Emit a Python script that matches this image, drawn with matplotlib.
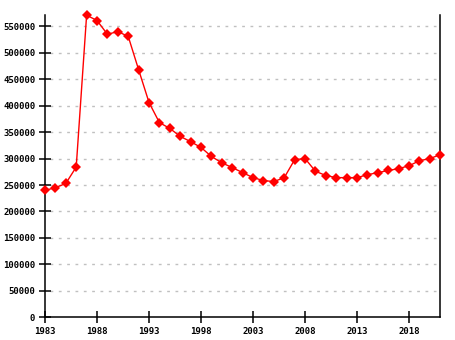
import matplotlib
matplotlib.use("Agg")
import matplotlib.pyplot as plt

# population by year
years = list(range(1983, 2022))
population = [
    240000, 245000, 253000, 284000, 571000, 561000, 535000, 540000,
    531000, 468000, 406000, 368000, 357000, 342000, 332000, 321000,
    304000, 292000, 283000, 273500, 264000, 258500, 256500, 264000,
    298000, 300000, 276000, 268000, 264000, 264000, 264000, 269500,
    273500, 277500, 281000, 286500, 296000, 300000, 307500,
]
xticks = [1983, 1988, 1993, 1998, 2003, 2008, 2013, 2018]
yticks = list(range(0, 550001, 50000))

plt.rcParams['font.family'] = ['DejaVu Sans Mono']

fig = plt.figure(figsize=(4.55, 3.4), dpi=100)
ax = fig.add_axes([45 / 455, (340 - 317.3) / 340, (440.3 - 45) / 455, (317.3 - 15) / 340])

# dashed grid, kept a little off both vertical axes
for y in yticks[1:]:
    ax.axhline(y, xmin=0.012, xmax=0.99, color='#c0c0c0', lw=1,
               ls=(0, (2, 4)), zorder=0)

ax.plot(years, population, color='#ff0000', lw=1, marker='D', ms=5,
        markeredgewidth=0, clip_on=False, zorder=3)

ax.set_xlim(1983, 2021)
ax.set_ylim(0, 571400)
ax.set_xticks(xticks)
ax.set_yticks(yticks)
ax.set_xticklabels([str(x) for x in xticks])
ax.set_yticklabels([str(y) for y in yticks])

ax.spines['top'].set_visible(False)
for side in ('left', 'right', 'bottom'):
    ax.spines[side].set_linewidth(1.1)
    ax.spines[side].set_color('black')

ax.tick_params(axis='both', direction='inout', length=8, width=1.1,
               labelsize=6.5, pad=3)
for lab in ax.get_xticklabels() + ax.get_yticklabels():
    lab.set_fontweight('bold')

fig.savefig('out.png', dpi=100)
